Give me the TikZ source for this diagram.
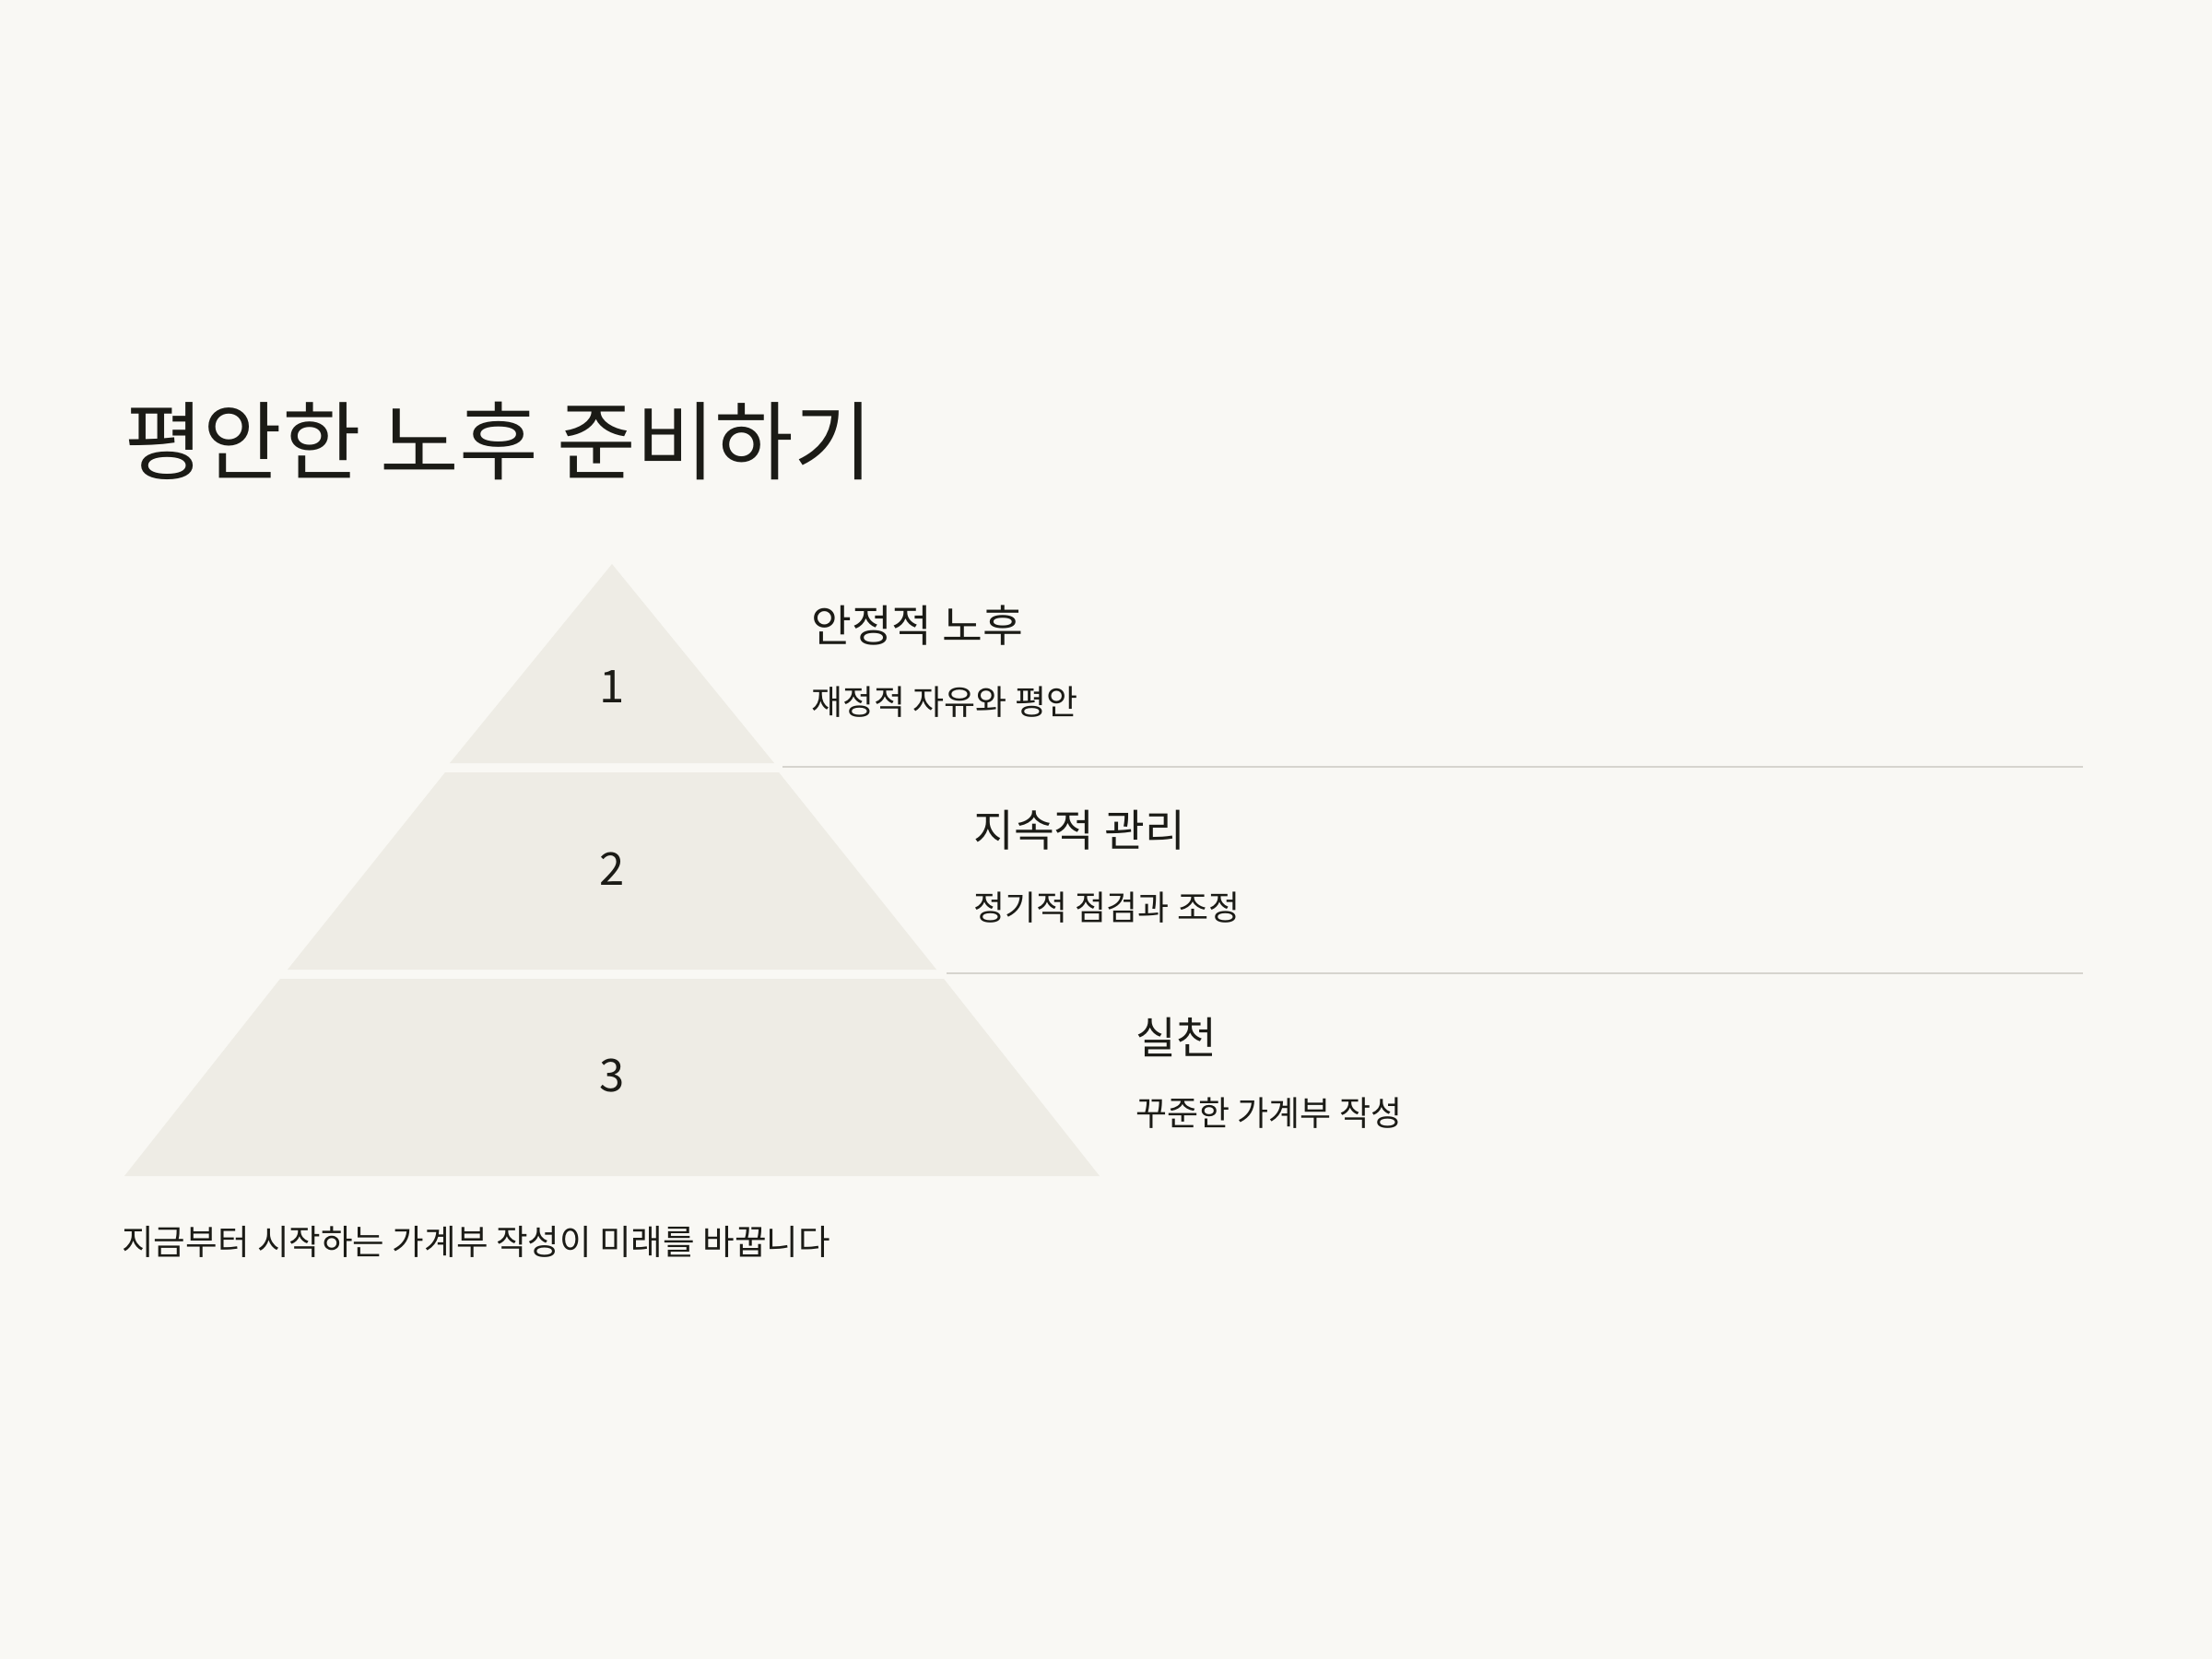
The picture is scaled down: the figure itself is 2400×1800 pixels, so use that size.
\documentclass[tikz,border=0pt]{standalone}
\usepackage{fontspec}
\setmainfont{Noto Sans CJK KR}
\newfontfamily\kr{Noto Sans CJK KR}
\definecolor{bgc}{HTML}{F9F8F4}
\definecolor{tierc}{HTML}{EEECE5}
\definecolor{ink}{HTML}{1B1B16}
\definecolor{rulec}{HTML}{D6D4CE}
\tikzset{
  tier/.style={fill=tierc, draw=none},
  numlabel/.style={inner sep=0pt, text=ink, font=\kr\fontsize{24.5pt}{28pt}\selectfont},
  titletext/.style={inner sep=0pt, anchor=west, text=ink, font=\kr\fontsize{46.5pt}{52pt}\selectfont},
  headtext/.style={inner sep=0pt, anchor=west, text=ink, font=\kr\fontsize{23.8pt}{28pt}\selectfont},
  subtext/.style={inner sep=0pt, anchor=west, text=ink, font=\kr\fontsize{18.5pt}{22pt}\selectfont},
  foottext/.style={inner sep=0pt, anchor=west, text=ink, font=\kr\fontsize{18.8pt}{22pt}\selectfont},
  sepline/.style={draw=rulec, line width=1.2pt}
}
\begin{document}
\begin{tikzpicture}[x=0.5pt,y=-0.5pt]
\fill[bgc] (0,0) rectangle (2400,1800);
\useasboundingbox (0,0) rectangle (2400,1800);

% title
\node[titletext] (title) at (135,478) {평안한 노후 준비하기};

% pyramid tiers
\fill[tier] (664,612) -- (840,828) -- (488,828) -- cycle;
\fill[tier] (483,838) -- (845,838) -- (1016,1052) -- (312,1052) -- cycle;
\fill[tier] (304,1062) -- (1024,1062) -- (1193,1276) -- (135,1276) -- cycle;

\node[numlabel] (n1) at (664,745) {1};
\node[numlabel] (n2) at (664,943) {2};
\node[numlabel] (n3) at (664,1167) {3};

% separators
\coordinate (s1a) at (849,832);
\coordinate (s1b) at (2260,832);
\coordinate (s2a) at (1027,1056);
\coordinate (s2b) at (2260,1056);
\draw[sepline] (s1a) -- (s1b);
\draw[sepline] (s2a) -- (s2b);

% tier texts
\node[headtext] (h1) at (880,679) {안정적 노후};
\node[subtext] (d1) at (880,762) {재정적 자유와 평안};
\node[headtext] (h2) at (1056,901) {지속적 관리};
\node[subtext] (d2) at (1056,985) {정기적 점검과 조정};
\node[headtext] (h3) at (1232,1125) {실천};
\node[subtext] (d3) at (1232,1208) {꾸준한 가계부 작성};

% footer
\node[foottext] (foot) at (132,1347) {지금부터 시작하는 가계부 작성이 미래를 바꿉니다};
\end{tikzpicture}
\end{document}
